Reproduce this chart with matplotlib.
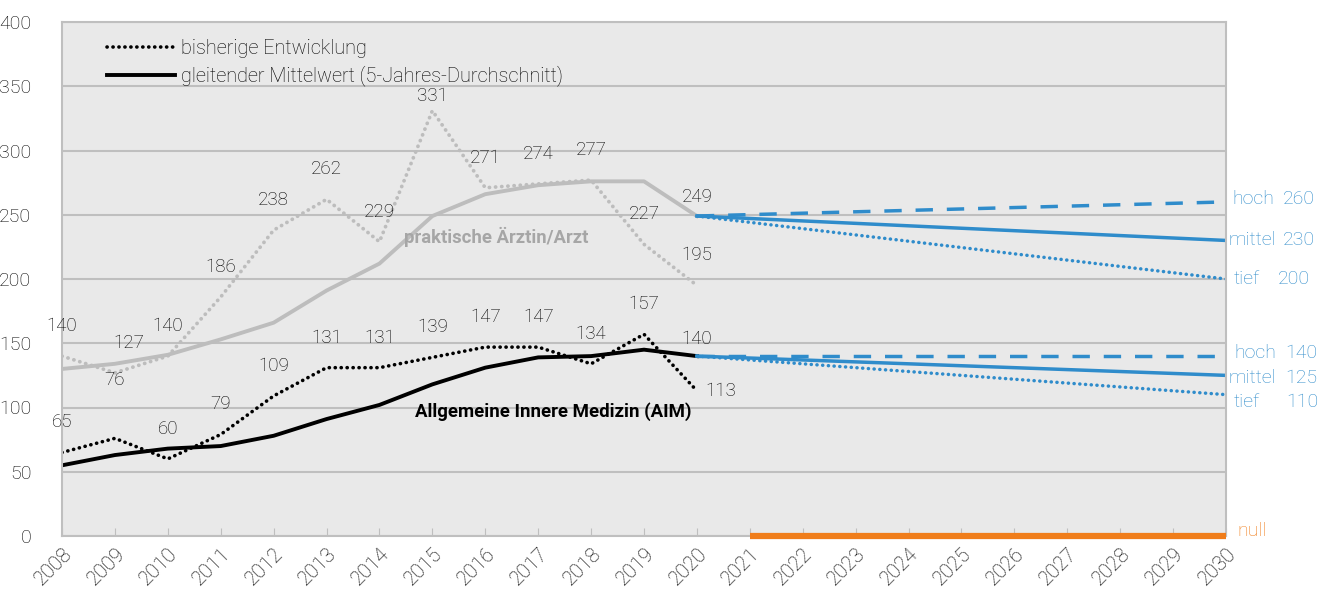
import numpy as np
import matplotlib.pyplot as plt

plt.rcParams['font.family'] = ['Roboto', 'DejaVu Sans']
plt.rcParams['font.weight'] = 'light'

years_hist = list(range(2008, 2021))
years_all = list(range(2008, 2031))

# praktische Aerztin/Arzt
prakt_actual = [140, 127, 140, 186, 238, 262, 229, 331, 271, 274, 277, 227, 195]
prakt_mean = [130, 134, 141, 153, 166, 191, 212, 249, 266, 273, 276, 276, 249]

# Allgemeine Innere Medizin (AIM)
aim_actual = [65, 76, 60, 79, 109, 131, 131, 139, 147, 147, 134, 157, 113]
aim_mean = [55, 63, 68, 70, 78, 91, 102, 118, 131, 139, 140, 145, 140]

# projection 2020 -> 2030 (start, end)
proj_years = [2020, 2030]
prakt_proj = {'hoch': [249, 260], 'mittel': [249, 230], 'tief': [249, 200]}
aim_proj = {'hoch': [140, 140], 'mittel': [140, 125], 'tief': [140, 110]}
null_years = [2021, 2030]
null_vals = [0, 0]

BLUE = '#2f8ccb'
ORANGE = '#f07d1a'
LGRAY = '#bdbdbd'
TXT = '#000000'

fig = plt.figure(figsize=(13.31, 5.99), dpi=100)
ax = fig.add_axes([62 / 1331, 63 / 599, 1164 / 1331, 514 / 599])
ax.set_facecolor('#e9e9e9')

dot = (0, (0.05, 1.6))

# history
ax.plot(years_hist, prakt_actual, color=LGRAY, lw=2.7, ls=dot, dash_capstyle='round')
ax.plot(years_hist, prakt_mean, color=LGRAY, lw=2.8)
ax.plot(years_hist, aim_actual, color='black', lw=2.6, ls=dot, dash_capstyle='round',
        label='bisherige Entwicklung')
ax.plot(years_hist, aim_mean, color='black', lw=2.8,
        label='gleitender Mittelwert (5-Jahres-Durchschnitt)')

# projections
styles = {'hoch': (0, (5, 4)), 'mittel': '-', 'tief': dot}
for proj in (prakt_proj, aim_proj):
    for key, vals in proj.items():
        ax.plot(proj_years, vals, color=BLUE, lw=2.5, ls=styles[key],
                dash_capstyle='round' if key == 'tief' else 'butt')
ax.plot(null_years, null_vals, color=ORANGE, lw=4.5, clip_on=False, zorder=5,
        solid_capstyle='butt')

# data labels
def lab(x, y, txt, dx=0, dy=30, ha='center'):
    ax.annotate(txt, (x, y), xytext=(dx, dy), textcoords='offset pixels',
                ha=ha, va='center', fontsize=13.5, color=TXT)

for yr, v in zip(years_hist, prakt_actual):
    dx, dy = 0, 30
    if yr == 2009:
        dx = 14
    if yr == 2015:
        dy = 15
    lab(yr, v, str(v), dx, dy)
for yr, v in zip(years_hist[:-1], aim_actual[:-1]):
    dy = 58 if yr == 2009 else 30
    lab(yr, v, str(v), 0, dy)
lab(2020, aim_actual[-1], str(aim_actual[-1]), 8, 0, ha='left')
lab(2020, prakt_mean[-1], str(prakt_mean[-1]), 0, 19)
lab(2020, aim_mean[-1], str(aim_mean[-1]), 0, 17)

ax.text(2014.47, 233, 'praktische Ärztin/Arzt', fontsize=13.3, fontweight='bold',
        color='#a6a6a6', va='center', ha='left')
ax.text(2014.68, 97, 'Allgemeine Innere Medizin (AIM)', fontsize=13.4,
        fontweight='bold', color='black', va='center', ha='left')

# scenario labels at right
right = [('hoch', prakt_proj['hoch'][1], 6, 57, 3),
         ('mittel', prakt_proj['mittel'][1], 2, 57, 0),
         ('tief', prakt_proj['tief'][1], 8, 52, 0),
         ('hoch', aim_proj['hoch'][1], 8, 59, 3),
         ('mittel', aim_proj['mittel'][1], 3, 59, -3),
         ('tief', aim_proj['tief'][1], 8, 60, -7)]
for name, v, dx1, dx2, dy in right:
    ax.annotate(name, (2030, v), xytext=(dx1, dy), textcoords='offset pixels',
                ha='left', va='center', fontsize=14, color=BLUE, annotation_clip=False)
    ax.annotate(str(v), (2030, v), xytext=(dx2, dy), textcoords='offset pixels',
                ha='left', va='center', fontsize=14, color=BLUE, annotation_clip=False)
ax.annotate('null', (2030, 0), xytext=(11, 5), textcoords='offset pixels',
            ha='left', va='center', fontsize=14, color=ORANGE, annotation_clip=False)

# axes
ax.set_xlim(2008, 2030)
ax.set_ylim(0, 400)
ax.set_yticks(range(0, 401, 50))
ax.set_xticks(years_all)
ax.set_xticklabels([str(y) for y in years_all], rotation=45, ha='right',
                   rotation_mode='anchor')
ax.tick_params(axis='x', direction='in', length=6, color='#bfbfbf', labelsize=14.5,
               labelcolor=TXT, pad=6)
ax.tick_params(axis='y', length=0, labelsize=14, labelcolor=TXT, pad=22)
ax.grid(axis='y', color='#bfbfbf', lw=1.5)
ax.set_axisbelow(True)
for s in ax.spines.values():
    s.set_color('#bfbfbf')
    s.set_linewidth(1.5)

ax.legend(loc='upper left', bbox_to_anchor=(0.027, 0.994), frameon=False,
          fontsize=14.3, handlelength=3.4, handletextpad=0.3, labelspacing=0.37,
          labelcolor=TXT, borderaxespad=0.3)

fig.savefig('out.png', dpi=100)
